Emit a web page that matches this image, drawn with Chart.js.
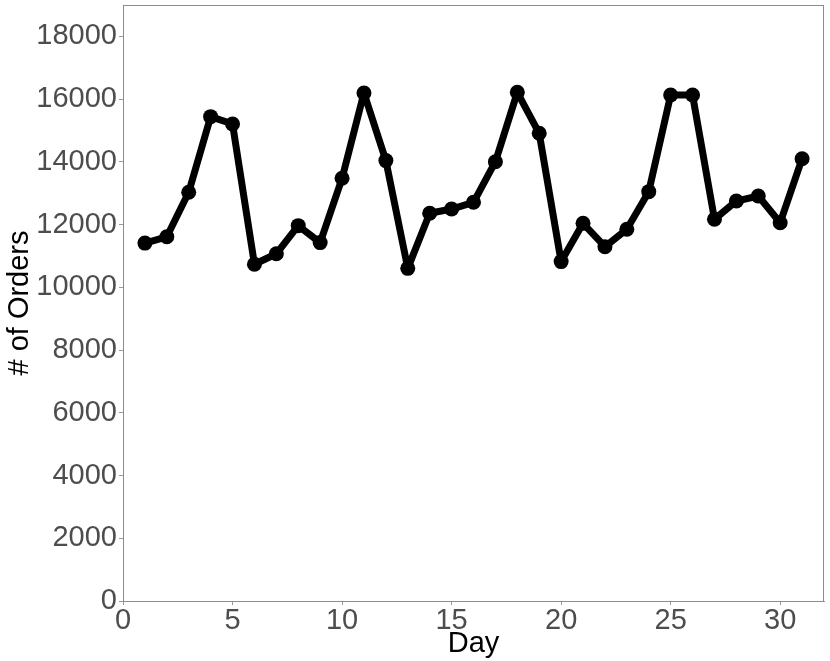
<!DOCTYPE html>
<html>
<head>
<meta charset="utf-8">
<script src="https://cdn.jsdelivr.net/npm/chart.js@4"></script>
<style>
  html, body { margin: 0; padding: 0; background: #fff; }
  #wrap { width: 830px; height: 661px; }
</style>
</head>
<body>
<div id="wrap"><canvas id="myLine" width="830" height="661"></canvas></div>
<script>
// values
const days = [1,2,3,4,5,6,7,8,9,10,11,12,13,14,15,16,17,18,19,20,21,22,23,24,25,26,27,28,29,30,31];
const orders = [11410,11610,13030,15440,15205,10735,11070,11965,11425,13475,16195,14040,10605,12360,12495,12710,14005,16215,14910,10820,12040,11295,11850,13050,16130,16130,12170,12750,12910,12060,14100];
const xTicks = [0,5,10,15,20,25,30];
const yTicks = [0,2000,4000,6000,8000,10000,12000,14000,16000,18000];

const points = days.map((d,i)=>({x:d, y:orders[i]}));
const tickGrey = '#4d4d4d';
const lineGrey = '#999999';

// grey box round the panel, like ggplot's panel border
const panelBorder = {
  id: 'panelBorder',
  afterDraw(chart){
    const a = chart.chartArea, c = chart.ctx;
    c.save();
    c.strokeStyle = '#8c8c8c';
    c.lineWidth = 1;
    c.strokeRect(a.left+0.5, a.top+0.5, a.right-a.left-1, a.bottom-a.top);
    c.restore();
  }
};

const ctx = document.getElementById('myLine').getContext('2d');
new Chart(ctx, {
  type: 'line',
  data: {
    datasets: [{
      data: points,
      borderColor: '#000',
      backgroundColor: '#000',
      borderWidth: 7,
      borderJoinStyle: 'round',
      borderCapStyle: 'round',
      pointRadius: 7.5,
      pointHoverRadius: 7.5,
      pointBorderWidth: 0,
      tension: 0,
      clip: false
    }]
  },
  options: {
    responsive: false,
    animation: false,
    plugins: { legend: {display:false}, tooltip: {enabled:false} },
    layout: { autoPadding: false, padding: { top: 5, right: 6, left: 0, bottom: 0 } },
    scales: {
      x: {
        type: 'linear',
        min: 0, max: 32,
        afterBuildTicks: s => { s.ticks = xTicks.map(v=>({value:v})); },
        afterFit: s => { s.height = 60; s.paddingLeft = 0; s.paddingRight = 0; },
        ticks: { color: tickGrey, font: {family:'Liberation Sans', size:29}, padding: -1, maxRotation: 0, autoSkip: false,
                 callback: v => String(v) },
        grid: { drawOnChartArea: false, drawTicks: true, tickLength: 4, color: lineGrey },
        border: { display: true, color: lineGrey },
        title: { display: true, text: 'Day', color: '#000', font: {family:'Liberation Sans', size:29}, padding: {top:0, bottom:0} }
      },
      y: {
        type: 'linear',
        min: 0, max: 19000,
        afterBuildTicks: s => { s.ticks = yTicks.map(v=>({value:v})); },
        afterFit: s => { s.width = 123; s.paddingTop = 0; s.paddingBottom = 0; },
        ticks: { color: tickGrey, font: {family:'Liberation Sans', size:29}, padding: 2, autoSkip: false,
                 callback: v => String(v) },
        grid: { drawOnChartArea: false, drawTicks: true, tickLength: 4, color: lineGrey },
        border: { display: true, color: lineGrey },
        title: { display: true, text: '# of Orders', color: '#000', font: {family:'Liberation Sans', size:29}, padding: {top:3, bottom:0} }
      }
    }
  },
  plugins: [panelBorder]
});
</script>
</body>
</html>
